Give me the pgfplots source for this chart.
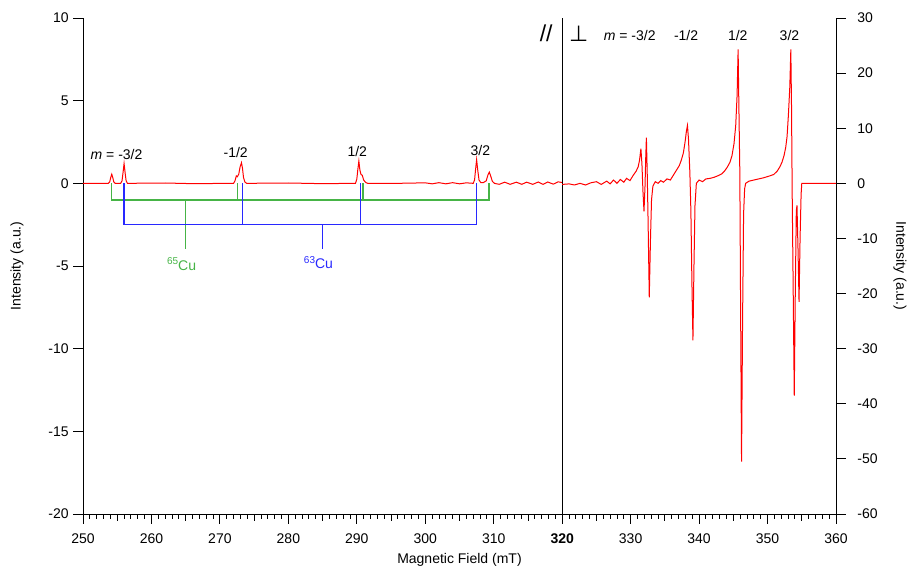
\documentclass[border=0pt]{standalone}
\usepackage{pgfplots}
\pgfplotsset{compat=1.18}
\usepackage{pgfplotstable}
\usepackage{fontspec}
\setmainfont{Liberation Sans}
\newfontfamily\dejavu{DejaVu Sans}
\definecolor{cured}{RGB}{255,0,0}
\definecolor{cugreen}{RGB}{70,180,70}
\definecolor{cublue}{RGB}{40,40,255}

\pgfplotstableread{
x y
250 0
253.7 0
253.9 0.08
254.05 0.35
254.2 0.55
254.35 0.35
254.5 0.08
254.7 0
255.5 0
255.7 0.15
255.85 0.65
256.0 1.2
256.15 0.65
256.3 0.15
256.5 0
262 0.02
266 -0.02
272.0 0
272.2 0.15
272.4 0.45
272.55 0.4
272.75 0.55
272.95 1.0
273.15 1.25
273.3 0.9
273.45 0.35
273.65 0.08
273.9 0
280 0.02
285 -0.02
289.8 0
290.0 0.25
290.15 0.85
290.3 1.35
290.45 0.8
290.6 0.55
290.8 0.48
291.0 0.2
291.3 0.05
291.6 0
296 0
300 0.03
301 -0.03
302 0.04
303 -0.03
304 0.04
305 -0.03
306 0.03
307.0 0
307.2 0.2
307.35 0.85
307.5 1.43
307.65 0.85
307.85 0.2
308.1 0.05
308.5 0.05
308.9 0.15
309.15 0.5
309.35 0.68
309.55 0.45
309.8 0.12
310.1 0
310.8 -0.06
311.6 0.07
312.4 -0.06
313.3 0.07
314.1 -0.06
314.8 0.07
315.7 -0.06
316.5 0.08
317.2 -0.06
317.9 0.08
318.7 -0.05
319.4 0.09
320 0.05
}\parallelspec

\pgfplotstableread{
x y
320 -0.2
321 -0.1
321.8 -0.3
322.6 0
323.4 -0.3
324.2 0.1
325.0 0.3
325.7 -0.2
326.5 0.4
327.0 -0.1
327.5 0.6
328.0 0.0
328.5 0.7
329.0 0.2
329.4 0.9
329.9 0.5
330.4 1.5
330.8 2.2
331.1 3.0
331.3 4.2
331.5 6.3
331.65 3.5
331.8 -1.5
331.95 -5.1
332.1 -0.5
332.2 4.5
332.3 8.3
332.42 2.0
332.55 -7.0
332.72 -20.7
332.9 -10.0
333.05 -3.0
333.25 -0.5
333.6 0.3
334.0 0.0
334.4 0.5
334.8 0.2
335.3 0.8
335.8 0.6
336.3 1.6
336.7 2.4
337.1 3.2
337.4 4.2
337.7 5.5
337.95 7.5
338.15 9.5
338.3 10.5
338.45 8.0
338.65 2.0
338.8 -5.0
338.95 -18.0
339.1 -28.5
339.25 -15.0
339.4 -4.0
339.6 0.0
340.0 0.6
340.5 0.3
341.0 0.8
341.6 0.9
342.2 1.1
342.8 1.4
343.3 1.7
343.7 2.2
344.1 2.9
344.5 3.8
344.8 5.0
345.1 7.2
345.35 10.5
345.55 16.0
345.7 24.3
345.8 15.0
345.95 2.0
346.05 -20.0
346.2 -50.5
346.35 -25.0
346.5 -5.5
346.65 -1.0
346.8 0.0
347.3 0.4
348.0 0.6
348.7 0.8
349.4 1.0
350.2 1.3
350.9 1.6
351.4 2.2
351.8 3.0
352.1 3.8
352.4 5.0
352.65 6.5
352.85 8.5
353.05 12.5
353.25 17.5
353.4 24.3
353.5 14.0
353.6 -2.0
353.75 -20.0
353.9 -38.5
354.05 -20.0
354.2 -5.0
354.3 -4.0
354.45 -12.0
354.6 -21.5
354.75 -10.0
354.9 -2.0
355.0 0.0
355.3 0.0
360 0.0
}\perpspec

\begin{document}
\fontsize{14bp}{17bp}\selectfont
\begin{tikzpicture}
\pgfplotsset{
  every axis/.append style={
    scale only axis, width=753bp, height=496bp,
    xmin=250, xmax=360,
    axis line style={-, line width=0.9bp, black},
    tick style={line width=0.9bp, black},
    tick align=outside,
    major tick length=9.5bp, minor tick length=4.5bp,
  }
}
\begin{axis}[name=main,
  ymin=-20, ymax=10,
  axis x line*=bottom, axis y line*=left,
  xtick={250,260,...,360},
  xticklabels={250,260,270,280,290,300,310,\textbf{320},330,340,350,360},
  minor xtick={251,252,...,359},
  extra x ticks={255,265,275,285,295,305,315,325,335,345,355},
  extra x tick labels={},
  extra x tick style={major tick length=6.5bp},
  ytick={-20,-15,...,10},
  yticklabels={-20,-15,-10,-5,0,5,10},
  minor ytick={},
  xticklabel style={yshift=-5bp},
  xlabel={Magnetic Field (mT)},
  xlabel style={at={(axis description cs:0.5,0)}, anchor=center, yshift=-46bp},
  ylabel={Intensity (a.u.)},
  ylabel style={at={([xshift=-66bp]axis description cs:0,0.5)}, anchor=center},
]
\addplot[cured, line width=1bp] table[x=x,y=y] {\parallelspec};
\addplot[black, line width=0.9bp] coordinates {(320,-20) (320,10)};
% 65Cu stick diagram
\addplot[cugreen, line width=1.4bp] coordinates {(254.2,0) (254.2,-1) (309.3,-1) (309.3,0)};
\addplot[cugreen, line width=1.4bp] coordinates {(272.6,0) (272.6,-1)};
\addplot[cugreen, line width=1.4bp] coordinates {(290.9,0) (290.9,-1)};
\addplot[cugreen, line width=1.4bp] coordinates {(265.0,-1) (265.0,-4.0)};
% 63Cu stick diagram
\addplot[cublue, line width=1.4bp] coordinates {(256.0,0) (256.0,-2.5) (307.5,-2.5) (307.5,0)};
\addplot[cublue, line width=1.4bp] coordinates {(273.3,0) (273.3,-2.5)};
\addplot[cublue, line width=1.4bp] coordinates {(290.5,0) (290.5,-2.5)};
\addplot[cublue, line width=1.4bp] coordinates {(285.0,-2.5) (285.0,-4.0)};
\node[anchor=base, text=cugreen] at (axis cs:264.4,-5.26) {\raisebox{5.5bp}{\fontsize{10bp}{12bp}\selectfont 65}Cu};
\node[anchor=base, text=cublue] at (axis cs:284.4,-5.16) {\raisebox{5.5bp}{\fontsize{10bp}{12bp}\selectfont 63}Cu};
% labels parallel
\node[anchor=base] at (axis cs:254.9,1.47) {\textit{m} = -3/2};
\node[anchor=base] at (axis cs:272.3,1.55) {-1/2};
\node[anchor=base] at (axis cs:290.07,1.63) {1/2};
\node[anchor=base] at (axis cs:308.04,1.69) {3/2};
% labels perpendicular
\node[anchor=base] at (axis cs:317.66,8.6) {\fontsize{23bp}{26bp}\selectfont //};
\node[anchor=base] at (axis cs:322.4,8.55) {\fontsize{22bp}{26bp}\selectfont\dejavu ⊥};
\node[anchor=base] at (axis cs:329.86,8.65) {\textit{m} = -3/2};
\node[anchor=base] at (axis cs:338.1,8.65) {-1/2};
\node[anchor=base] at (axis cs:345.65,8.65) {1/2};
\node[anchor=base] at (axis cs:353.2,8.65) {3/2};
\end{axis}

\begin{axis}[
  ymin=-60, ymax=30,
  hide x axis,
  axis y line*=right,
  ytick={-60,-50,...,30},
  yticklabels={-60,-50,-40,-30,-20,-10,0,10,20,30},
  minor ytick={},
  yticklabel style={xshift=7bp},
  ylabel={Intensity (a.u.)},
  ylabel style={at={([xshift=64bp]axis description cs:1,0.5)}, anchor=center, rotate=180},
]
\addplot[cured, line width=1bp] table[x=x,y=y] {\perpspec};
\end{axis}
\pgfresetboundingbox
\path[use as bounding box] ([xshift=-83bp,yshift=-53bp]main.south west) rectangle ([xshift=72bp,yshift=18bp]main.north east);
\end{tikzpicture}
\end{document}
